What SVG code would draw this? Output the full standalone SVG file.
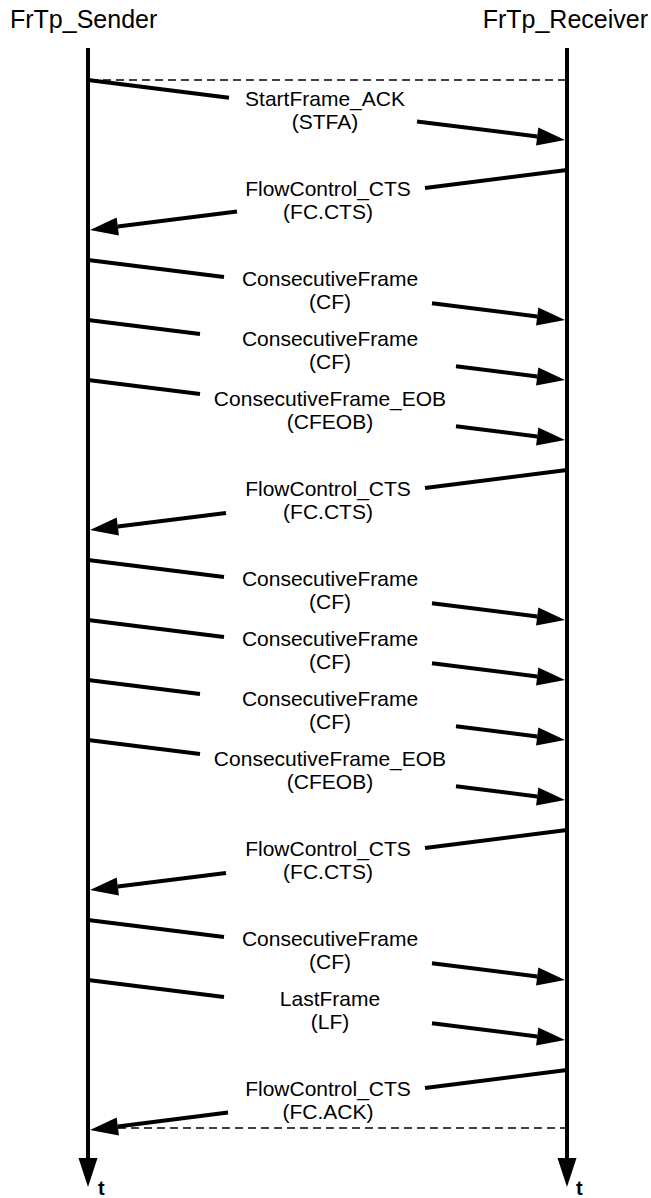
<svg xmlns="http://www.w3.org/2000/svg" width="651" height="1198" viewBox="0 0 651 1198">
<style>
.lbl{font-family:"Liberation Sans",Arial,sans-serif;font-size:21px;fill:#000;text-anchor:middle}
.ttl{font-family:"Liberation Sans",Arial,sans-serif;font-size:25px;fill:#000}
.t{font-family:"Liberation Sans",Arial,sans-serif;font-size:20px;font-weight:bold;fill:#000}
.msg{stroke:#000;stroke-width:4;fill:none}
.life{stroke:#000;stroke-width:4;fill:none}
.dash{stroke:#000;stroke-width:1.5;stroke-dasharray:8 5;fill:none}
</style>
<defs>
<marker id="ah" markerUnits="userSpaceOnUse" markerWidth="30" markerHeight="20" refX="0" refY="9" orient="auto" overflow="visible">
<path d="M0,0 L28,9 L0,18 z" fill="#000"/>
</marker>
<marker id="ahv" markerUnits="userSpaceOnUse" markerWidth="31" markerHeight="20" refX="0" refY="9.5" orient="auto" overflow="visible">
<path d="M0,0 L29,9.5 L0,19 z" fill="#000"/>
</marker>
</defs>
<rect width="651" height="1198" fill="#fff"/>
<g id="sender">
<text class="ttl" x="10" y="28">FrTp_Sender</text>
<line class="life" x1="88" y1="48" x2="88" y2="1158" marker-end="url(#ahv)"/>
<text class="t" x="98" y="1195">t</text>
</g>
<g id="receiver">
<text class="ttl" x="648" y="28" text-anchor="end">FrTp_Receiver</text>
<line class="life" x1="567" y1="48" x2="567" y2="1158" marker-end="url(#ahv)"/>
<text class="t" x="576" y="1195">t</text>
</g>
<g id="connectors">
<line class="dash" x1="90" y1="80" x2="565" y2="80"/>
<line class="dash" x1="118" y1="1128" x2="565" y2="1128"/>
<!-- 1 STFA Y=80 -->
<line class="msg" x1="88" y1="80" x2="229" y2="97.7"/>
<line class="msg" x1="417" y1="121.4" x2="537.2" y2="136.5" marker-end="url(#ah)"/>
<!-- 2 FC.CTS Y=170 -->
<line class="msg" x1="567" y1="170" x2="425" y2="187.9"/>
<line class="msg" x1="237" y1="211.5" x2="117.8" y2="226.5" marker-end="url(#ah)"/>
<!-- 3 CF Y=260 -->
<line class="msg" x1="88" y1="260" x2="224" y2="277.1"/>
<line class="msg" x1="432" y1="303.3" x2="537.2" y2="316.5" marker-end="url(#ah)"/>
<!-- 4 CF Y=320 -->
<line class="msg" x1="88" y1="320" x2="200" y2="334.1"/>
<line class="msg" x1="456" y1="366.3" x2="537.2" y2="376.5" marker-end="url(#ah)"/>
<!-- 5 CFEOB Y=380 -->
<line class="msg" x1="88" y1="380" x2="200" y2="394.1"/>
<line class="msg" x1="456" y1="426.3" x2="537.2" y2="436.5" marker-end="url(#ah)"/>
<!-- 6 FC.CTS Y=470 -->
<line class="msg" x1="567" y1="470" x2="425" y2="487.9"/>
<line class="msg" x1="226" y1="512.9" x2="117.8" y2="526.5" marker-end="url(#ah)"/>
<!-- 7 CF Y=560 -->
<line class="msg" x1="88" y1="560" x2="224" y2="577.1"/>
<line class="msg" x1="432" y1="603.3" x2="537.2" y2="616.5" marker-end="url(#ah)"/>
<!-- 8 CF Y=620 -->
<line class="msg" x1="88" y1="620" x2="224" y2="637.1"/>
<line class="msg" x1="432" y1="663.3" x2="537.2" y2="676.5" marker-end="url(#ah)"/>
<!-- 9 CF Y=680 -->
<line class="msg" x1="88" y1="680" x2="200" y2="694.1"/>
<line class="msg" x1="456" y1="726.3" x2="537.2" y2="736.5" marker-end="url(#ah)"/>
<!-- 10 CFEOB Y=740 -->
<line class="msg" x1="88" y1="740" x2="200" y2="754.1"/>
<line class="msg" x1="456" y1="786.3" x2="537.2" y2="796.5" marker-end="url(#ah)"/>
<!-- 11 FC.CTS Y=830 -->
<line class="msg" x1="567" y1="830" x2="425" y2="847.9"/>
<line class="msg" x1="226" y1="872.9" x2="117.8" y2="886.5" marker-end="url(#ah)"/>
<!-- 12 CF Y=920 -->
<line class="msg" x1="88" y1="920" x2="224" y2="937.1"/>
<line class="msg" x1="432" y1="963.3" x2="537.2" y2="976.5" marker-end="url(#ah)"/>
<!-- 13 LF Y=980 -->
<line class="msg" x1="88" y1="980" x2="224" y2="997.1"/>
<line class="msg" x1="432" y1="1023.3" x2="537.2" y2="1036.5" marker-end="url(#ah)"/>
<!-- 14 FC.ACK Y=1070 -->
<line class="msg" x1="567" y1="1070" x2="425" y2="1087.9"/>
<line class="msg" x1="228" y1="1112.6" x2="117.8" y2="1126.5" marker-end="url(#ah)"/>
</g>
<g id="m1"><text class="lbl" x="325" y="106">StartFrame_ACK</text><text class="lbl" x="325" y="129">(STFA)</text></g>
<g id="m2"><text class="lbl" x="328" y="196">FlowControl_CTS</text><text class="lbl" x="328" y="219">(FC.CTS)</text></g>
<g id="m3"><text class="lbl" x="330" y="286">ConsecutiveFrame</text><text class="lbl" x="330" y="309">(CF)</text></g>
<g id="m4"><text class="lbl" x="330" y="346">ConsecutiveFrame</text><text class="lbl" x="330" y="369">(CF)</text></g>
<g id="m5"><text class="lbl" x="330" y="406">ConsecutiveFrame_EOB</text><text class="lbl" x="330" y="429">(CFEOB)</text></g>
<g id="m6"><text class="lbl" x="328" y="496">FlowControl_CTS</text><text class="lbl" x="328" y="519">(FC.CTS)</text></g>
<g id="m7"><text class="lbl" x="330" y="586">ConsecutiveFrame</text><text class="lbl" x="330" y="609">(CF)</text></g>
<g id="m8"><text class="lbl" x="330" y="646">ConsecutiveFrame</text><text class="lbl" x="330" y="669">(CF)</text></g>
<g id="m9"><text class="lbl" x="330" y="706">ConsecutiveFrame</text><text class="lbl" x="330" y="729">(CF)</text></g>
<g id="m10"><text class="lbl" x="330" y="766">ConsecutiveFrame_EOB</text><text class="lbl" x="330" y="789">(CFEOB)</text></g>
<g id="m11"><text class="lbl" x="328" y="856">FlowControl_CTS</text><text class="lbl" x="328" y="879">(FC.CTS)</text></g>
<g id="m12"><text class="lbl" x="330" y="946">ConsecutiveFrame</text><text class="lbl" x="330" y="969">(CF)</text></g>
<g id="m13"><text class="lbl" x="330" y="1006">LastFrame</text><text class="lbl" x="330" y="1029">(LF)</text></g>
<g id="m14"><text class="lbl" x="328" y="1096">FlowControl_CTS</text><text class="lbl" x="328" y="1119">(FC.ACK)</text></g>
</svg>
